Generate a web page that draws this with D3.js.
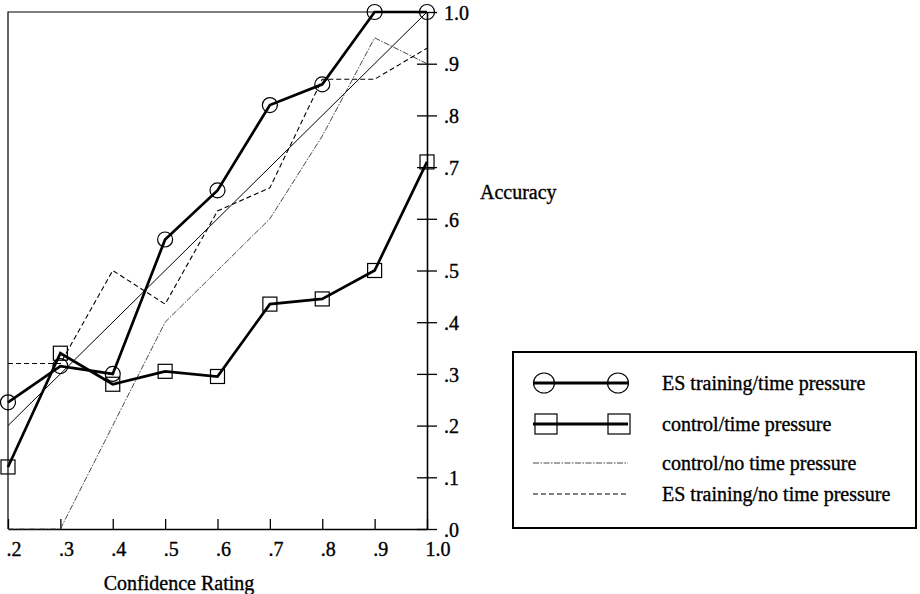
<!DOCTYPE html>
<html>
<head>
<meta charset="utf-8">
<script src="https://cdn.jsdelivr.net/npm/d3@7"></script>
<style>
  body { margin: 0; background: #fff; }
  svg { display: block; }
  text { font-family: "Liberation Serif", "Times New Roman", serif; fill: #000; stroke: #000; stroke-width: 0.35px; }
</style>
</head>
<body>
<svg id="myGraph" width="920" height="594"></svg>
<script>
// data
var confidence = [0.2, 0.3, 0.4, 0.5, 0.6, 0.7, 0.8, 0.9, 1.0];
var esTimePressure = [0.245, 0.315, 0.30, 0.56, 0.655, 0.82, 0.86, 1.0, 1.0];
var controlTimePressure = [0.12, 0.34, 0.28, 0.305, 0.295, 0.435, 0.445, 0.50, 0.71];
var controlNoPressure = [0.0, 0.0, 0.2, 0.4, 0.5, 0.6, 0.76, 0.95, 0.90];
var esNoPressure = [0.32, 0.32, 0.50, 0.435, 0.615, 0.66, 0.87, 0.87, 0.93];
// perfect calibration diagonal
var idealX = [0.2, 1.0];
var idealY = [0.2, 1.0];

var xTicks = [0.2, 0.3, 0.4, 0.5, 0.6, 0.7, 0.8, 0.9, 1.0];
var xTickLabels = [".2", ".3", ".4", ".5", ".6", ".7", ".8", ".9", "1.0"];
var yTicks = [0, 0.1, 0.2, 0.3, 0.4, 0.5, 0.6, 0.7, 0.8, 0.9, 1.0];
var yTickLabels = [".0", ".1", ".2", ".3", ".4", ".5", ".6", ".7", ".8", ".9", "1.0"];

var legendNames = ["ES training/time pressure", "control/time pressure",
                   "control/no time pressure", "ES training/no time pressure"];

var svg = d3.select("#myGraph");

// scales
var x = d3.scaleLinear().domain([0.2, 1.0]).range([8, 427]);
var y = d3.scaleLinear().domain([0, 1.0]).range([529, 12]);

// frame: top and left thin lines
svg.append("path")
   .attr("d", "M" + x(1.0) + "," + y(1.0) + "H" + x(0.2) + "V" + y(0))
   .attr("fill", "none")
   .attr("stroke", "#000")
   .attr("stroke-width", 1.2);

// bottom axis, ticks pointing up into the plot
var xAxis = svg.append("g")
   .attr("transform", "translate(0," + y(0) + ")")
   .call(d3.axisBottom(x)
      .tickValues(xTicks)
      .tickSizeInner(-10)
      .tickSizeOuter(0)
      .tickFormat(function(d, i){ return xTickLabels[i]; }));
xAxis.select(".domain").attr("stroke-width", 1.6);
xAxis.selectAll(".tick line").attr("stroke-width", 1.3);
xAxis.selectAll(".tick text")
   .attr("text-anchor", "start")
   .attr("x", -2)
   .attr("y", 27)
   .attr("dy", null)
   .attr("font-size", 20)
   .attr("font-family", null);

// right axis, ticks crossing the line
var yAxis = svg.append("g")
   .attr("transform", "translate(" + x(1.0) + ",0)")
   .call(d3.axisRight(y)
      .tickValues(yTicks)
      .tickSizeOuter(0)
      .tickFormat(function(d, i){ return yTickLabels[i]; }));
yAxis.select(".domain").attr("stroke-width", 1.6);
yAxis.selectAll(".tick line")
   .attr("x1", -10)
   .attr("x2", 10)
   .attr("stroke-width", 1.3);
yAxis.selectAll(".tick text")
   .attr("x", 17)
   .attr("dy", "0.36em")
   .attr("font-size", 20)
   .attr("font-family", null);

// axis titles
svg.append("text")
   .attr("x", 480)
   .attr("y", 199)
   .attr("font-size", 20)
   .text("Accuracy");
svg.append("text")
   .attr("x", 179)
   .attr("y", 590)
   .attr("text-anchor", "middle")
   .attr("font-size", 20)
   .text("Confidence Rating");

function pts(ys){
  return ys.map(function(v, i){ return [confidence[i], v]; });
}
var line = d3.line()
   .x(function(d){ return x(d[0]); })
   .y(function(d){ return y(d[1]); });

// perfect calibration line
svg.append("path")
   .datum(idealX.map(function(v, i){ return [v, idealY[i]]; }))
   .attr("d", line)
   .attr("fill", "none")
   .attr("stroke", "#000")
   .attr("stroke-width", 1);

// thin dashed series
var styles = {
  controlNo: { dash: "6,1.5,1.5,1.5", width: 0.9, color: "#333" },
  esNo: { dash: "5,3", width: 1.1, color: "#000" }
};
svg.append("path")
   .datum(pts(controlNoPressure))
   .attr("d", line)
   .attr("fill", "none")
   .attr("stroke", styles.controlNo.color)
   .attr("stroke-width", styles.controlNo.width)
   .attr("stroke-dasharray", styles.controlNo.dash);
svg.append("path")
   .datum(pts(esNoPressure))
   .attr("d", line)
   .attr("fill", "none")
   .attr("stroke", styles.esNo.color)
   .attr("stroke-width", styles.esNo.width)
   .attr("stroke-dasharray", styles.esNo.dash);

// thick series
svg.append("path")
   .datum(pts(controlTimePressure))
   .attr("d", line)
   .attr("fill", "none")
   .attr("stroke", "#000")
   .attr("stroke-width", 2.7);
svg.append("path")
   .datum(pts(esTimePressure))
   .attr("d", line)
   .attr("fill", "none")
   .attr("stroke", "#000")
   .attr("stroke-width", 2.7);

// markers
svg.selectAll("rect.sq")
   .data(pts(controlTimePressure))
   .enter()
   .append("rect")
   .attr("class", "sq")
   .attr("x", function(d){ return x(d[0]) - 7; })
   .attr("y", function(d){ return y(d[1]) - 7; })
   .attr("width", 14)
   .attr("height", 14)
   .attr("fill", "none")
   .attr("stroke", "#000")
   .attr("stroke-width", 1.2);
svg.selectAll("circle.ci")
   .data(pts(esTimePressure))
   .enter()
   .append("circle")
   .attr("class", "ci")
   .attr("cx", function(d){ return x(d[0]); })
   .attr("cy", function(d){ return y(d[1]); })
   .attr("r", 7.5)
   .attr("fill", "none")
   .attr("stroke", "#000")
   .attr("stroke-width", 1.2);

// legend
var leg = svg.append("g");
leg.append("rect")
   .attr("x", 513)
   .attr("y", 352)
   .attr("width", 403)
   .attr("height", 176)
   .attr("fill", "none")
   .attr("stroke", "#000")
   .attr("stroke-width", 2);

var legY = [383, 424, 463, 494];
var lx1 = 533, lx2 = 628, m1 = 544, m2 = 618;

// row 1: circles
leg.append("line").attr("x1", lx1).attr("x2", lx2).attr("y1", legY[0]).attr("y2", legY[0])
   .attr("stroke", "#000").attr("stroke-width", 3);
[m1, m2].forEach(function(cx){
  leg.append("ellipse").attr("cx", cx).attr("cy", legY[0]).attr("rx", 10.5).attr("ry", 10)
     .attr("fill", "none").attr("stroke", "#000").attr("stroke-width", 1.2);
});
// row 2: squares
leg.append("line").attr("x1", lx1).attr("x2", lx2).attr("y1", legY[1]).attr("y2", legY[1])
   .attr("stroke", "#000").attr("stroke-width", 3);
[m1 + 2, m2 + 1].forEach(function(cx){
  leg.append("rect").attr("x", cx - 11).attr("y", legY[1] - 10).attr("width", 22).attr("height", 20)
     .attr("fill", "none").attr("stroke", "#000").attr("stroke-width", 1.2);
});
// row 3 and 4: thin dashes
leg.append("line").attr("x1", lx1).attr("x2", lx2).attr("y1", legY[2]).attr("y2", legY[2])
   .attr("stroke", styles.controlNo.color).attr("stroke-width", styles.controlNo.width)
   .attr("stroke-dasharray", styles.controlNo.dash);
leg.append("line").attr("x1", lx1).attr("x2", lx2).attr("y1", legY[3]).attr("y2", legY[3])
   .attr("stroke", styles.esNo.color).attr("stroke-width", styles.esNo.width)
   .attr("stroke-dasharray", styles.esNo.dash);

leg.selectAll("text.lbl")
   .data(legendNames)
   .enter()
   .append("text")
   .attr("class", "lbl")
   .attr("x", 662)
   .attr("y", function(d, i){ return legY[i] + 7; })
   .attr("font-size", 20)
   .text(function(d){ return d; });
</script>
</body>
</html>
